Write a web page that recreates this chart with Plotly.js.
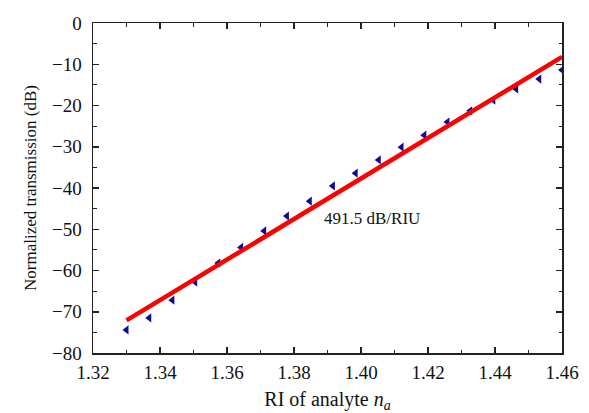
<!DOCTYPE html>
<html>
<head>
<meta charset="utf-8">
<script src="https://cdn.plot.ly/plotly-3.0.1.min.js"></script>
<style>
  html, body { margin: 0; padding: 0; background: #fff; }
  #chart { width: 589px; height: 413px; }
</style>
</head>
<body>
<div id="chart"></div>
<script>
// Measured transmission versus analyte refractive index
const riValues = [1.3300, 1.3368, 1.3437, 1.3505, 1.3574, 1.3642, 1.3711, 1.3779, 1.3847, 1.3916,
                  1.3984, 1.4053, 1.4121, 1.4189, 1.4258, 1.4326, 1.4395, 1.4463, 1.4532, 1.4600];
const transmission = [-74.4, -71.5, -67.2, -62.8, -58.2, -54.4, -50.4, -46.8, -43.2, -39.5,
                      -36.4, -33.2, -30.1, -27.2, -24.0, -21.3, -18.7, -16.0, -13.6, -11.4];

// Linear fit: sensitivity (dB/RIU) and value at the start of the range
const fitSlope = 491.5;
const fitStartX = 1.33;
const fitEndX = 1.46;
const fitStartY = -72.1;
const fitX = [fitStartX, fitEndX];
const fitY = fitX.map(x => fitStartY + fitSlope * (x - fitStartX));

const xTicks = [1.32, 1.34, 1.36, 1.38, 1.40, 1.42, 1.44, 1.46];
const yTicks = [0, -10, -20, -30, -40, -50, -60, -70, -80];

const serif = 'Liberation Serif, Times New Roman, serif';

const traces = [
  {
    x: riValues, y: transmission, type: 'scatter', mode: 'markers',
    marker: { symbol: 'triangle-left', size: 8, color: '#0b0b9c' },
    hoverinfo: 'x+y'
  },
  {
    x: fitX, y: fitY, type: 'scatter', mode: 'lines',
    line: { color: '#ff0000', width: 4.5 }
  }
];

const axisCommon = {
  showgrid: false, zeroline: false,
  showline: true, linecolor: '#222', linewidth: 1.5,
  mirror: 'ticks', ticks: 'inside', ticklen: 6, tickwidth: 1.5, tickcolor: '#222',
  tickfont: { family: serif, size: 19, color: '#111' }
};

const layout = {
  width: 589, height: 413,
  margin: { l: 93, r: 27, t: 23, b: 60 },
  paper_bgcolor: '#fff', plot_bgcolor: '#fff',
  showlegend: false,
  xaxis: Object.assign({}, axisCommon, {
    range: [1.32, 1.46],
    tickmode: 'array', tickvals: xTicks, ticktext: xTicks.map(v => v.toFixed(2)),
    ticklabelstandoff: 2,
    minor: { dtick: 0.01, ticks: 'inside', ticklen: 3.5, tickwidth: 1.2, tickcolor: '#222' },
    title: { text: 'RI of analyte <i>n</i><sub><i>a</i></sub>', standoff: 14,
             font: { family: serif, size: 20, color: '#111' } }
  }),
  yaxis: Object.assign({}, axisCommon, {
    range: [-80, 0],
    tickmode: 'array', tickvals: yTicks,
    ticklabelstandoff: 6,
    minor: { dtick: 5, ticks: 'inside', ticklen: 3.5, tickwidth: 1.2, tickcolor: '#222' },
    title: { text: 'Normalized transmission (dB)', standoff: 11,
             font: { family: serif, size: 17, color: '#111' } }
  }),
  annotations: [
    {
      x: 1.4033, y: -47.3, xref: 'x', yref: 'y',
      text: '491.5 dB/RIU', showarrow: false,
      font: { family: serif, size: 17, color: '#111' }
    }
  ]
};

Plotly.newPlot('chart', traces, layout, { staticPlot: true, displayModeBar: false });
</script>
</body>
</html>
